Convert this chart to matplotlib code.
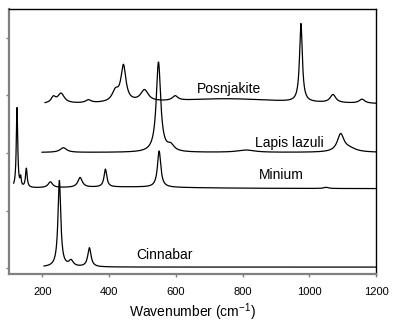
import numpy as np
import matplotlib
matplotlib.use("Agg")
import matplotlib.pyplot as plt

plt.rcParams['font.family'] = ['Liberation Sans', 'DejaVu Sans']
plt.rcParams['mathtext.default'] = 'regular'

# spectra: offset + peaks (centre cm-1, height, half width)
cinnabar_range = (205, 1200)
cinnabar_offset = 0.02
cinnabar_pos = [251, 286, 341]
cinnabar_h = [1.50, 0.10, 0.33]
cinnabar_w = [5, 8, 6]

minium_range = (114, 1200)
minium_offset = 1.38
minium_pos = [124, 135, 152, 224, 313, 389, 550, 1050, 450]
minium_h = [1.40, 0.15, 0.33, 0.10, 0.17, 0.31, 0.63, 0.02, 0.03]
minium_w = [2.5, 2, 3, 8, 8, 5, 6, 8, 250]

lapis_range = (199, 1200)
lapis_offset = 2.01
lapis_pos = [263, 548, 585, 810, 1094, 1120]
lapis_h = [0.08, 1.56, 0.10, 0.04, 0.30, 0.06]
lapis_w = [12, 8, 12, 30, 12, 25]

posn_range = (208, 1200)
posn_offset = 2.84
posn_pos = [233, 256, 338, 419, 443, 506, 598, 975, 1071, 1158, 750]
posn_h = [0.10, 0.17, 0.05, 0.18, 0.62, 0.20, 0.08, 1.36, 0.14, 0.07, 0.10]
posn_w = [8, 12, 10, 12, 9, 14, 10, 5, 10, 10, 220]

labels = ["Cinnabar", "Minium", "Lapis lazuli", "Posnjakite"]
label_x = [565, 915, 940, 760]
label_y = [0.23, 1.62, 2.17, 3.11]


def spectrum(rng, offset, pos, h, w):
    x = np.linspace(rng[0], rng[1], 2000)
    y = np.full_like(x, offset)
    for c, a, g in zip(pos, h, w):
        y += a * g ** 2 / ((x - c) ** 2 + g ** 2)
    return x, y


fig = plt.figure(figsize=(3.94, 3.23), dpi=100)
ax = fig.add_axes([9 / 394, 1 - 274 / 323, 367 / 394, 265 / 323])

for rng, off, p, h, w in [
    (cinnabar_range, cinnabar_offset, cinnabar_pos, cinnabar_h, cinnabar_w),
    (minium_range, minium_offset, minium_pos, minium_h, minium_w),
    (lapis_range, lapis_offset, lapis_pos, lapis_h, lapis_w),
    (posn_range, posn_offset, posn_pos, posn_h, posn_w),
]:
    x, y = spectrum(rng, off, p, h, w)
    ax.plot(x, y, color='black', lw=0.9)

for t, tx, ty in zip(labels, label_x, label_y):
    ax.text(tx, ty, t, ha='center', va='center', fontsize=10)

ax.set_xlim(100, 1200)
ax.set_ylim(-0.1, 4.5)
ax.set_xticks([200, 400, 600, 800, 1000, 1200])
ax.set_yticks([0, 1, 2, 3, 4])
ax.set_yticklabels([])
ax.tick_params(axis='both', direction='out', length=2.5, width=1, color='#808080', labelsize=8, pad=7)
ax.set_xlabel('Wavenumber (cm$^{-1}$)', fontsize=10, labelpad=3)

for s in ['left', 'bottom']:
    ax.spines[s].set_color('#808080')
    ax.spines[s].set_linewidth(1.6)
for s in ['top', 'right']:
    ax.spines[s].set_color('black')
    ax.spines[s].set_linewidth(1.0)

fig.savefig('out.png', dpi=100)
